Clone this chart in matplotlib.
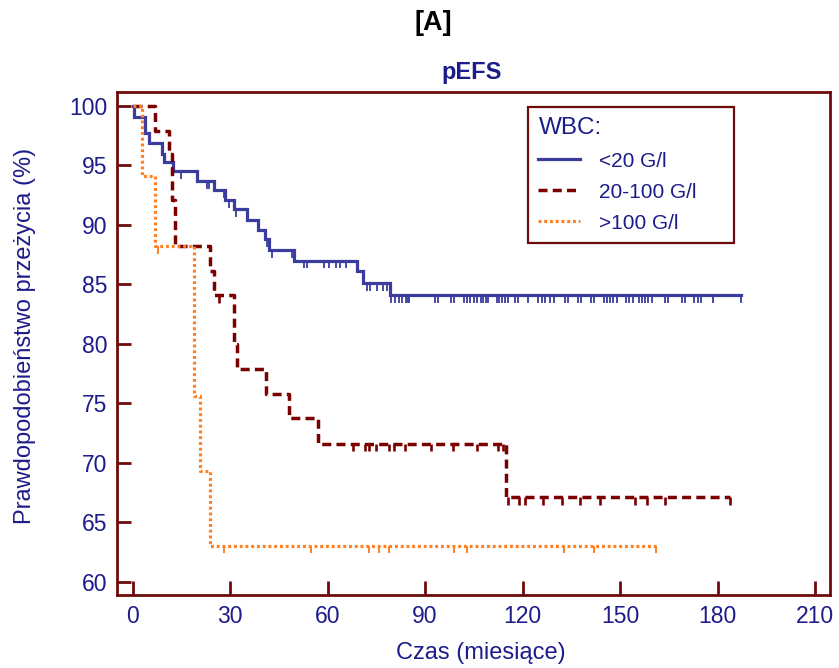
import numpy as np
import matplotlib
matplotlib.use("Agg")
import matplotlib.pyplot as plt

plt.rcParams["font.family"] = ["Liberation Sans", "DejaVu Sans"]

# Kaplan-Meier estimates of event-free survival by WBC group
group_labels = ["<20 G/l", "20-100 G/l", ">100 G/l"]

low_times = [0, 0.4, 3.8, 5.0, 8.9, 9.7, 12.5, 19.9, 25.1, 28.4, 31.3, 35.1,
             38.7, 40.7, 42.0, 49.7, 69.1, 71.0, 79.2]
low_surv = [100, 99.1, 97.7, 96.9, 96.0, 95.3, 94.5, 93.7, 92.9, 92.1, 91.3,
            90.4, 89.6, 88.8, 87.9, 87.0, 86.1, 85.1, 84.1]
low_last = 187.1
low_censored = [14.8, 22.8, 23.5, 28.0, 29.6, 31.7, 41.3, 43.0, 49.1, 52.8,
                53.8, 59.0, 60.5, 62.7, 63.8, 65.7, 72.1, 72.9, 75.2, 77.2,
                78.4, 79.5, 80.7, 81.9, 82.8, 84.0, 84.6, 85.1, 93.1, 94.1,
                97.9, 98.9, 102.0, 102.8, 103.8, 105.1, 106.1, 107.1, 107.9,
                108.8, 109.5, 112.1, 112.9, 113.6, 114.6, 115.6, 117.7, 118.7,
                121.8, 124.9, 125.9, 126.9, 128.5, 129.7, 133.1, 134.1, 137.0,
                138.0, 141.0, 142.0, 145.1, 145.9, 146.9, 147.9, 149.0, 151.8,
                152.8, 154.1, 155.9, 156.9, 157.7, 158.7, 159.9, 163.8, 164.9,
                169.0, 170.0, 172.9, 173.9, 174.9, 178.7, 187.1]

mid_times = [0, 6.9, 11.1, 12.0, 13.0, 23.8, 25.0, 31.2, 32.0, 41.0, 48.1,
             57.1, 114.8]
mid_surv = [100, 97.9, 96.0, 92.1, 88.2, 86.1, 84.1, 80.0, 77.9, 75.8, 73.8,
            71.6, 67.1]
mid_last = 183.8
mid_censored = [26.6, 67.8, 71.6, 72.8, 74.8, 78.9, 80.5, 83.7, 91.9, 98.7,
                106.0, 112.5, 114.0, 115.4, 119.0, 120.7, 126.4, 132.0, 137.7,
                143.8, 154.6, 158.2, 163.8, 183.8]

high_times = [0, 3.0, 6.9, 18.9, 20.7, 23.8]
high_surv = [100, 94.12, 88.24, 75.63, 69.33, 63.03]
high_last = 161.0
high_censored = [7.7, 28.2, 54.8, 72.8, 75.9, 79.0, 99.0, 102.8, 132.9,
                 142.1, 161.0]

x_ticks = [0, 30, 60, 90, 120, 150, 180, 210]
y_ticks = [60, 65, 70, 75, 80, 85, 90, 95, 100]

navy = "#1c1c8a"
frame = "#6e0a0a"
styles = [
    dict(color="#3a3d9e", lw=2.3, ls="-", tick_lw=1.3),
    dict(color="#7a0000", lw=2.5, ls=(0, (2.6, 1.5)), tick_lw=1.9),
    dict(color="#ff8020", lw=2.3, ls=(0, (0.9, 0.9)), tick_lw=1.4),
]
series = [
    (low_times, low_surv, low_last, low_censored),
    (mid_times, mid_surv, mid_last, mid_censored),
    (high_times, high_surv, high_last, high_censored),
]

W, H = 839, 668
fig = plt.figure(figsize=(W / 100, H / 100), dpi=100)
ax = fig.add_axes([117 / W, 1 - 595 / H, (830 - 117) / W, (595 - 92) / H])

handles = []
for (times, surv, last, cens), st, lab in zip(series, styles, group_labels):
    x = list(times) + [last]
    y = list(surv) + [surv[-1]]
    h, = ax.step(x, y, where="post", color=st["color"], lw=st["lw"],
                 ls=st["ls"], label=lab, solid_joinstyle="miter",
                 dash_capstyle="butt")
    handles.append(h)
    idx = np.searchsorted(times, cens, side="right") - 1
    levels = np.asarray(surv)[idx]
    ax.vlines(cens, levels - 0.65, levels, color=st["color"],
              lw=st["tick_lw"])

ax.set_xlim(-4.8, 214.6)
ax.set_ylim(58.88, 101.18)
ax.set_xticks(x_ticks)
ax.set_yticks(y_ticks)
ax.tick_params(direction="in", length=10, width=2, color=frame,
               labelsize=16.5, labelcolor=navy, pad=7)
for sp in ax.spines.values():
    sp.set_color(frame)
    sp.set_linewidth(2)

leg = ax.legend(handles=handles, loc="upper left",
                bbox_to_anchor=(528 / W, 1 - 240 / H, 206 / W, 133 / H),
                bbox_transform=fig.transFigure, mode="expand",
                borderaxespad=0, fancybox=False, framealpha=1,
                edgecolor=frame, fontsize=15, title="WBC:",
                title_fontsize=17.5, alignment="left", handlelength=2.0,
                handletextpad=0.9, labelspacing=0.58, borderpad=0.5,
                labelcolor=navy)
leg.get_frame().set_linewidth(1.6)
leg.get_title().set_color(navy)

fig.text(433 / W, 1 - 23 / H, "[A]", ha="center", va="center",
         fontsize=19.5, fontweight="bold", color="black")
fig.text(472 / W, 1 - 72 / H, "pEFS", ha="center", va="center",
         fontsize=17, fontweight="bold", color=navy)
fig.text(481 / W, 1 - 653 / H, "Czas (miesiące)", ha="center", va="center",
         fontsize=17, color=navy)
fig.text(25 / W, 1 - 336 / H, "Prawdopodobieństwo przeżycia (%)",
         ha="center", va="center", rotation=90, fontsize=17, color=navy)

fig.savefig("out.png", dpi=100)
